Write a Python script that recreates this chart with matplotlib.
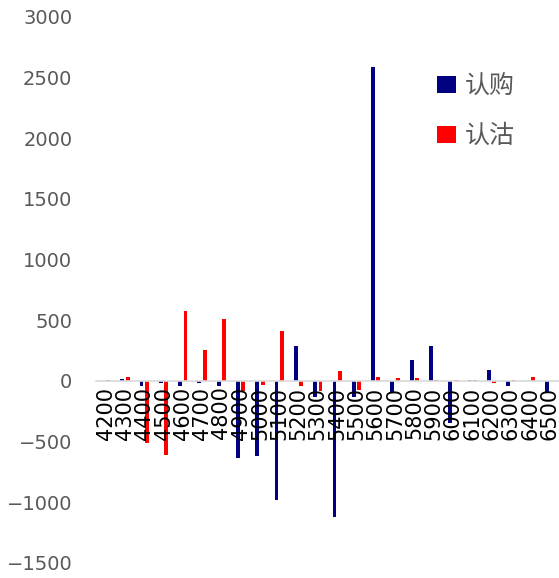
import matplotlib
matplotlib.use("Agg")
import matplotlib.pyplot as plt
import numpy as np

plt.rcParams['font.family'] = ['DejaVu Sans', 'Noto Sans CJK SC']

# strike prices and net values for calls (认购) and puts (认沽)
strikes = ["4200", "4300", "4400", "4500", "4600", "4700", "4800", "4900",
           "5000", "5100", "5200", "5300", "5400", "5500", "5600", "5700",
           "5800", "5900", "6000", "6100", "6200", "6300", "6400", "6500"]
call_vals = [0, 15, -40, -15, -40, -15, -40, -635, -615, -980, 285, -130,
             -1120, -130, 2590, -95, 170, 290, -350, 5, 88, -45, 0, -95]
put_vals = [8, 30, -510, -610, 575, 258, 508, -85, -30, 415, -40, -85,
            85, -75, 35, 22, 22, 8, 10, 8, -15, 8, 35, 0]
series_names = ["认购", "认沽"]

fig = plt.figure(figsize=(5.59, 5.78), dpi=100)
ax = fig.add_axes([0.1717, 0.026, 0.8283, 0.9446])

x = np.arange(len(strikes))
w = 0.2
ax.bar(x - 0.14, call_vals, w, color="#000080", label=series_names[0])
ax.bar(x + 0.14, put_vals, w, color="#FF0000", label=series_names[1])

# spine position first: moving it resets the tick settings
for s in ["top", "right", "left"]:
    ax.spines[s].set_visible(False)
ax.spines["bottom"].set_position(("data", 0))
ax.spines["bottom"].set_color("#d9d9d9")
ax.spines["bottom"].set_linewidth(1.2)

ax.set_xlim(-0.5, len(strikes) - 0.5)
ax.set_ylim(-1500, 3000)
ax.set_yticks(np.arange(-1500, 3001, 500))
ax.set_xticks(x)
ax.set_xticklabels(strikes)

ax.tick_params(axis="x", length=0, pad=4, labelrotation=90, labelsize=15,
               labelcolor="black")
ax.tick_params(axis="y", length=0, pad=17, labelsize=14, labelcolor="#595959")

leg = ax.legend(loc="upper left", bbox_to_anchor=(0.782, 0.873),
                bbox_transform=fig.transFigure, frameon=False,
                prop={"family": "Noto Sans CJK SC", "size": 18},
                handlelength=0.75, handleheight=0.65, handletextpad=0.35,
                labelspacing=0.95, borderpad=0, borderaxespad=0)
for t in leg.get_texts():
    t.set_color("#595959")

fig.savefig("out.png", dpi=100)
